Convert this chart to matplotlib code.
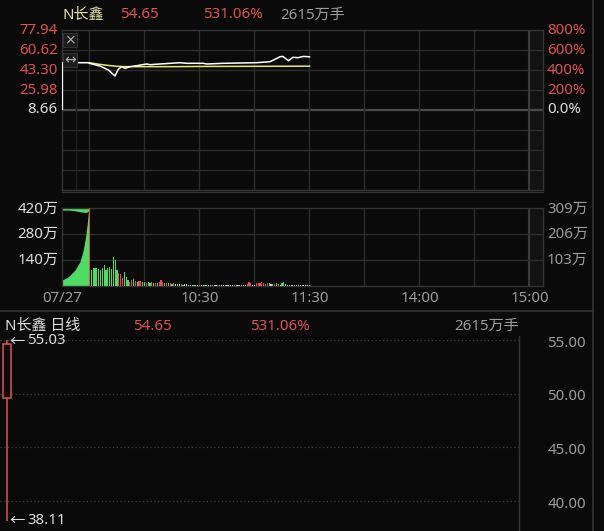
import matplotlib
matplotlib.use('Agg')
import matplotlib.pyplot as plt
from matplotlib.patches import Rectangle
from matplotlib.lines import Line2D

plt.rcParams['font.family'] = ['Noto Sans', 'Noto Sans CJK SC', 'DejaVu Sans']

# ---------------- data ----------------
stock_name = 'N长鑫'
last_price = '54.65'
pct_change = '531.06%'
total_volume = '2615万手'
prev_close = 8.66

price_tick_labels = ['77.94', '60.62', '43.30', '25.98', '8.66']
pct_tick_labels = ['800%', '600%', '400%', '200%', '0.0%']
vol_left_labels = ['420万', '280万', '140万']
vol_right_labels = ['309万', '206万', '103万']
vol_tick_values = [420, 280, 140]
time_labels = ['07/27', '10:30', '11:30', '14:00', '15:00']
time_label_minutes = [0, 75, 135, 195, 255]      # minutes since 09:15 (lunch removed)

# intraday price (minutes since 09:15)
price_minutes = [0, 14.2, 14.9, 20.7, 25.3, 28.9, 30.7, 32.6, 34.4, 37.1, 40.7, 46.2, 48,
                 53.5, 64.4, 68, 77, 79, 88, 106, 113.5, 119, 120.5, 123.5, 126, 128.7,
                 131.6, 134.4, 135]
price_values = [49.62, 49.62, 49.10, 46.76, 43.30, 38.11, 43.91, 46.16, 44.77, 46.16, 47.02,
                48.50, 47.89, 48.50, 49.62, 49.10, 49.10, 48.50, 49.10, 49.62, 50.49, 54.82,
                55.03, 51.35, 54.30, 53.95, 55.03, 54.82, 54.65]
avg_minutes = [15, 20, 25, 30, 35, 60, 80, 135]
avg_values = [49.6, 48.3, 47.3, 46.5, 46.2, 46.2, 46.4, 46.6]

# call-auction volume (万)
auction_minutes = [0, 3.5, 7.1, 9.8, 11.6, 12.9, 13.8, 14.5, 15]
auction_volume = [32, 50, 86, 131, 194, 266, 338, 410, 420]
auction_band_low = [408, 409, 405, 400, 397, 396, 398, 405, 420]

# per-minute volume (万) from 09:30 (minute 15) to 11:30 (minute 135)
bar_volume = ([450] +
              [88, 95, 98, 96, 92, 86, 98, 112, 88, 95, 105, 90, 155, 140, 85] +
              [70, 62, 45, 75, 50, 32, 24, 32, 36, 26, 22, 28, 25, 20, 22] +
              [18, 22, 15, 20, 16, 14, 18, 22, 35, 20, 15, 18, 14, 16, 12, 15, 10, 12, 9, 10,
               8, 10, 9, 7, 8] +
              [8, 7, 8, 6, 7, 8, 6, 7, 8, 7, 6, 7, 8, 6, 7, 6, 8, 7, 6, 7, 8, 7, 6, 7, 6, 8, 7,
               6, 7, 8] +
              [12, 20, 18, 8, 7, 14, 18, 16, 20, 15, 12, 18, 14, 9, 12, 10, 14, 12, 8, 16, 20,
               10, 8, 7, 8, 6, 7, 8, 6, 7, 8, 6, 7, 6, 8])
bar_dirs = ('r' + 'ggggggggggggggg' + 'rrrgggrrgrgrrgg' + 'rggrgrgrrrgrgrgrwgwrgwwgw' +
            'wgwwrwwgwwwgwwrwwwgwwwwrwwgwww' + 'rrrwwrrrrrrrgwgrgrwgggwwwwwwwwwwwww')
bar_start_minute = 15

# daily candle
day_open, day_high, day_low, day_close = 49.6, 55.03, 38.11, 54.65
daily_ticks = [55, 50, 45, 40]
daily_tick_labels = ['55.00', '50.00', '45.00', '40.00']

# ---------------- style ----------------
W, H = 604, 531
BG = '#0a0a0a'
GRID = '#2c2c2c'
RED = '#e05252'
GREEN = '#4fdc62'
FLAT = '#cfcfcf'
GRAYTXT = '#9c9c9c'
WHITETXT = '#dedede'
YEL = '#e4e4a4'
FS = 10.8
PX_PER_MIN = 1.8333

fig = plt.figure(figsize=(W / 100, H / 100), dpi=100, facecolor=BG)


def axes_px(x0, y0, x1, y1):
    ax = fig.add_axes([x0 / W, 1 - y1 / H, (x1 - x0) / W, (y1 - y0) / H])
    ax.set_facecolor(BG)
    ax.set_xticks([])
    ax.set_yticks([])
    for s in ax.spines.values():
        s.set_color('#333333')
        s.set_linewidth(1)
    return ax


def ftext(x, y, s, color, ha='left', va='center', size=FS, **kw):
    fig.text(x / W, 1 - y / H, s, color=color, ha=ha, va=va, fontsize=size, **kw)


def fline(x0, y0, x1, y1, color='#333333', lw=1):
    fig.add_artist(Line2D([x0 / W, x1 / W], [1 - y0 / H, 1 - y1 / H], color=color, lw=lw))


xmax = (543 - 62) / PX_PER_MIN
vgrid = [15, 45, 75, 105, 135, 165, 195, 225, 255]

# ---------------- price panel ----------------
axp = axes_px(62, 30, 543, 190)
step = 77.94 - 60.62
axp.set_xlim(0, xmax)
axp.set_ylim(prev_close - 4 * step, prev_close + 4 * step)
axp.axvspan(255, xmax, color='#121212', zorder=0)
for k in range(-3, 4):
    lvl = prev_close + k * step
    if k == 0:
        axp.axhline(lvl, color='#4a4a4a', lw=1.6, zorder=1)
    else:
        axp.axhline(lvl, color=GRID, lw=1, zorder=1)
for v in vgrid:
    axp.axvline(v, color=GRID, lw=1, zorder=1)
axp.axvline(255, color='#3a3a3a', lw=1.5, zorder=1)
axp.axvline(7.7, color='#1e1e1e', lw=1, zorder=1)
axp.vlines(0, prev_close, price_values[0], color='white', lw=1.6, zorder=3)
axp.plot(avg_minutes, avg_values, color='#e6e66e', lw=1.1, zorder=3)
axp.plot(price_minutes, price_values, color='white', lw=1.1, zorder=4)

# icons in auction area
for (y0, y1, glyph) in [(33, 47, '×'), (53, 67, '↔')]:
    fig.add_artist(Rectangle((63 / W, 1 - y1 / H), 14 / W, (y1 - y0) / H,
                             facecolor='#1c1c1c', edgecolor='#333333', lw=0.8,
                             transform=fig.transFigure, zorder=5))
    ftext(70, (y0 + y1) / 2, glyph, '#b0b0b0', ha='center', size=10, zorder=6,
          family=['DejaVu Sans'])

ys = [30, 50, 70, 90, 110]
for i, (lab, pl) in enumerate(zip(price_tick_labels, pct_tick_labels)):
    c = WHITETXT if i == 4 else RED
    ftext(58, ys[i], lab, c, ha='right')
    ftext(547, ys[i], pl, c, ha='left')

# header
ftext(62, 15, stock_name, YEL)
ftext(120, 15, last_price, RED)
ftext(203, 15, pct_change, RED)
ftext(280, 15, total_volume, GRAYTXT)

# ---------------- volume panel ----------------
axv = axes_px(62, 208, 543, 286)
axv.set_xlim(0, xmax)
axv.set_ylim(0, 420)
axv.axvspan(255, xmax, color='#121212', zorder=0)
for v in vgrid:
    axv.axvline(v, color=GRID, lw=1, zorder=1)
axv.axvline(255, color='#3a3a3a', lw=1.5, zorder=1)
for t in vol_tick_values[1:]:
    axv.axhline(t, color=GRID, lw=1, zorder=1)
axv.fill_between(auction_minutes, 0, auction_volume, color=GREEN, lw=0, zorder=2)
axv.fill_between(auction_minutes, auction_band_low, 420, color=GREEN, lw=0, zorder=2)
cmap = {'r': RED, 'g': GREEN, 'w': FLAT}
xs = [bar_start_minute + i for i in range(len(bar_volume))]
axv.bar(xs, bar_volume, width=0.55, color=[cmap[d] for d in bar_dirs], lw=0, zorder=3)

vys = [209, 234.5, 260.5]
for lab, rl, y in zip(vol_left_labels, vol_right_labels, vys):
    ftext(58, y, lab, WHITETXT, ha='right')
    ftext(547, y, rl, GRAYTXT, ha='left')

for lab, m in zip(time_labels, time_label_minutes):
    ftext(62 + m * PX_PER_MIN, 299, lab, GRAYTXT, ha='center')

# separators
fline(0, 311, 593, 311, '#333333', 1.2)
fline(593, 0, 593, 531, '#333333', 1.2)
fline(62, 192, 543, 192, '#333333', 1)

# ---------------- daily K panel ----------------
axk = axes_px(0, 336, 519, 531)
ppu = (501 - 340.5) / 15.0
axk.set_ylim(55 - (531 - 340.5) / ppu, 55 + (340.5 - 336) / ppu)
day_w = 9.0
axk.set_xlim(-6.8 / day_w, (519 - 6.8) / day_w)
for s in ['top', 'left', 'bottom']:
    axk.spines[s].set_visible(False)
axk.spines['right'].set_color('#333333')
for t in daily_ticks:
    axk.axhline(t, color='#3c3c3c', lw=0.9, ls=(0, (1, 2)), zorder=1)
axk.vlines(0, day_low, day_high, color=RED, lw=1.1, zorder=3)
axk.add_patch(Rectangle((-0.45, day_open), 0.9, day_close - day_open,
                        facecolor=BG, edgecolor=RED, lw=1.1, zorder=4))
for t, lab in zip(daily_ticks, daily_tick_labels):
    ypix = 340.5 + (55 - t) * ppu + 3
    ftext(586, ypix, lab, GRAYTXT, ha='right')

for val, y in [(day_high, 341), (day_low, 520)]:
    ftext(9, y, '←', WHITETXT, size=11, family=['Noto Sans CJK SC'])
    ftext(27, y, f'{val:.2f}', WHITETXT)

ftext(5, 326, stock_name + ' 日线', WHITETXT)
ftext(133, 326, last_price, RED)
ftext(250, 326, pct_change, RED)
ftext(519, 326, total_volume, GRAYTXT, ha='right')

fig.savefig('out.png', dpi=100, facecolor=BG)
